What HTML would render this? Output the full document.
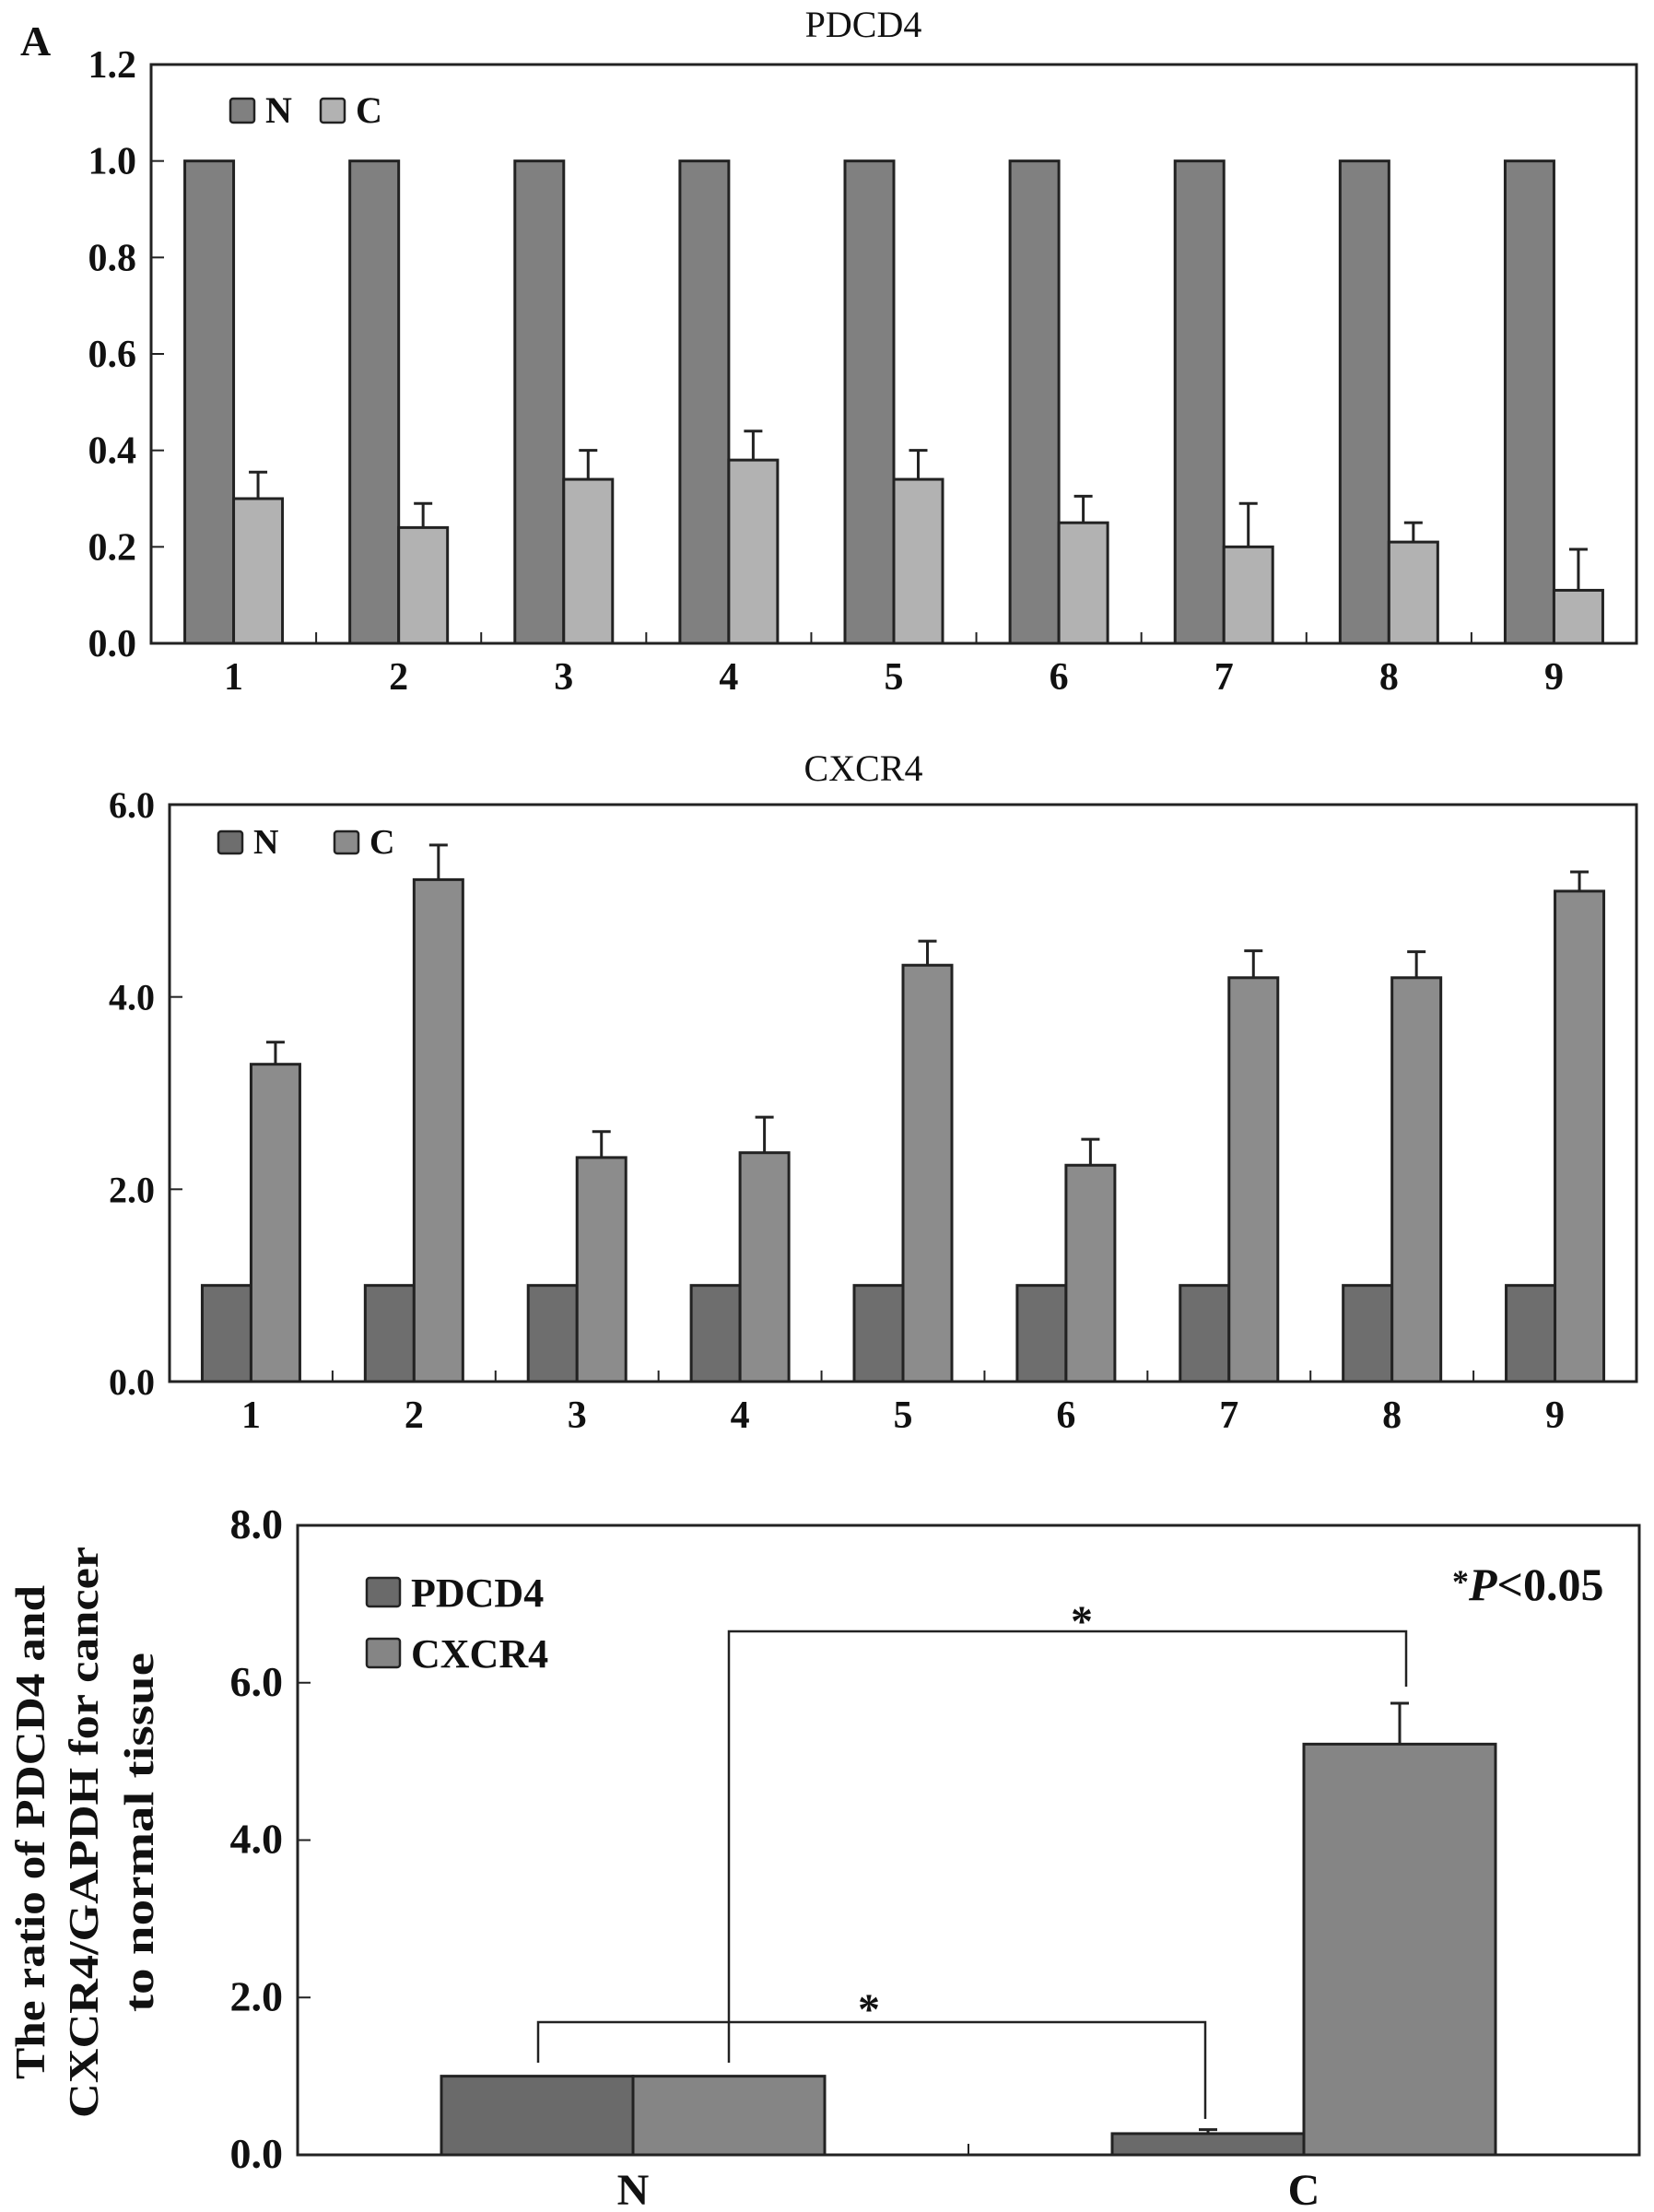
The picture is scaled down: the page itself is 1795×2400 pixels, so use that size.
<!DOCTYPE html>
<html><head><meta charset="utf-8"><style>
html,body{margin:0;padding:0;background:#fff;}
svg{display:block;font-family:"Liberation Serif",serif;font-weight:bold;}
</style></head><body>
<svg id="fig" width="1795" height="2400" viewBox="0 0 1795 2400" xmlns="http://www.w3.org/2000/svg"></svg>
<script>
// Chart 1: PDCD4
const pdcdCategories = ["1","2","3","4","5","6","7","8","9"];
const pdcdN = [1,1,1,1,1,1,1,1,1];
const pdcdC = [0.30,0.24,0.34,0.38,0.34,0.25,0.20,0.21,0.11];
const pdcdCErr = [0.055,0.05,0.06,0.06,0.06,0.055,0.09,0.04,0.085];
const pdcdTicks = ["0.0","0.2","0.4","0.6","0.8","1.0","1.2"];
// Chart 2: CXCR4
const cxcrCategories = ["1","2","3","4","5","6","7","8","9"];
const cxcrN = [1,1,1,1,1,1,1,1,1];
const cxcrC = [3.30,5.22,2.33,2.38,4.33,2.25,4.20,4.20,5.10];
const cxcrCErr = [0.23,0.36,0.27,0.37,0.25,0.27,0.28,0.27,0.20];
const cxcrTicks = ["0.0","2.0","4.0","6.0"];
// Chart 3: summary
const sumCategories = ["N","C"];
const sumPDCD4 = [1.0,0.27];
const sumPDCD4Err = [0,0.05];
const sumCXCR4 = [1.0,5.22];
const sumCXCR4Err = [0,0.52];
const sumTicks = ["0.0","2.0","4.0","6.0","8.0"];

const NS="http://www.w3.org/2000/svg";
const svg=document.getElementById('fig');
function mk(tag,attrs,parent){const e=document.createElementNS(NS,tag);for(const k in attrs)e.setAttribute(k,attrs[k]);(parent||svg).appendChild(e);return e;}
function txt(s,attrs,parent){const e=mk('text',attrs,parent);e.textContent=s;return e;}

function drawChart(o){
  const g=mk('g',{});
  
  
  const yv=v=>o.bottom-(v/o.ymax)*(o.bottom-o.top);
  const bw=(o.right-o.left)/o.cats.length;
  const xc=i=>o.left+bw*(i+0.5);
  o.ticks.forEach(t=>{
    const v=parseFloat(t),y=yv(v);
    const tk=mk('line',{x1:o.left,x2:o.left+14,y1:y,y2:y,stroke:'#222','stroke-width':2},g);
    
    
    const l=txt(t,{x:o.left-16,y:y+14,'text-anchor':'end','font-size':o.tfs,fill:'#111'},g);
    
    
  });
  o.series.forEach((s,si)=>{
    s.vals.forEach((v,i)=>{
      const x=xc(i)+(si===0?-o.barW:0);
      const r=mk('rect',{x:x,y:yv(v),width:o.barW,height:o.bottom-yv(v),fill:s.fill,stroke:'#222','stroke-width':3},g);
      
      
      if(s.err && s.err[i]>0){
        const cx=x+o.barW/2, ty=yv(v+s.err[i]);
        const e=mk('path',{d:`M${cx},${yv(v)}V${ty}M${cx-10},${ty}H${cx+10}`,stroke:'#222','stroke-width':3,fill:'none'},g);
        
        
      }
    });
  });
  o.cats.forEach((c,i)=>{
    if(i>0){const t=mk('line',{x1:o.left+bw*i,x2:o.left+bw*i,y1:o.bottom,y2:o.bottom-12,stroke:'#222','stroke-width':2},g);
      
      }
    const l=txt(c,{x:xc(i),y:o.bottom+o.xlOff,'text-anchor':'middle','font-size':o.xfs,fill:'#111'},g);
    
    
  });
  const fr=mk('rect',{x:o.left,y:o.top,width:o.right-o.left,height:o.bottom-o.top,fill:'none',stroke:'#222','stroke-width':3},g);
  
  
  return {yv,xc,g};
}

let a=txt('A',{x:22,y:60,'font-size':46,fill:'#111'});


let t1=txt('PDCD4',{x:937,y:40,'text-anchor':'middle','font-size':40,'font-weight':'normal',fill:'#111'});


let t2=txt('CXCR4',{x:937,y:847,'text-anchor':'middle','font-size':40,'font-weight':'normal',fill:'#111'});



drawChart({name:'pdcd4-chart',left:164,right:1776,top:70,bottom:698,ymax:1.2,cats:pdcdCategories,ticks:pdcdTicks,barW:53,tfs:42,xfs:42,xlOff:50,
  series:[{key:'n',vals:pdcdN,fill:'#808080'},{key:'c',vals:pdcdC,err:pdcdCErr,fill:'#b2b2b2'}]});
drawChart({name:'cxcr4-chart',left:184,right:1776,top:873,bottom:1499,ymax:6,cats:cxcrCategories,ticks:cxcrTicks,barW:53,tfs:40,xfs:42,xlOff:50,
  series:[{key:'n',vals:cxcrN,fill:'#6e6e6e'},{key:'c',vals:cxcrC,err:cxcrCErr,fill:'#8c8c8c'}]});
drawChart({name:'summary-chart',left:323,right:1779,top:1655,bottom:2338,ymax:8,cats:sumCategories,ticks:sumTicks,barW:208,tfs:46,xfs:48,xlOff:54,
  series:[{key:'pdcd4',vals:sumPDCD4,err:sumPDCD4Err,fill:'#6a6a6a'},{key:'cxcr4',vals:sumCXCR4,err:sumCXCR4Err,fill:'#858585'}]});

function legend(items){
  items.forEach(it=>{
    const r=mk('rect',{x:it.x,y:it.y,width:it.w,height:it.h,rx:3,fill:it.fill,stroke:'#222','stroke-width':2.5});
    
    
    const t=txt(it.label,{x:it.x+it.w+12,y:it.y+it.h,'font-size':it.fs,fill:'#111'});
    
    
  });
}
legend([{key:'n',x:250,y:107,w:26,h:26,fill:'#808080',label:'N',fs:40},{key:'c',x:348,y:107,w:26,h:26,fill:'#b2b2b2',label:'C',fs:40}]);
legend([{key:'n',x:237,y:902,w:26,h:24,fill:'#6e6e6e',label:'N',fs:38},{key:'c',x:363,y:902,w:26,h:24,fill:'#8c8c8c',label:'C',fs:38}]);
legend([{key:'pdcd4',x:398,y:1712,w:36,h:31,fill:'#6a6a6a',label:'PDCD4',fs:44},{key:'cxcr4',x:398,y:1778,w:36,h:31,fill:'#858585',label:'CXCR4',fs:44}]);

function bracket(name,x1,x2,y,y1end,y2end,sx,sy){
  const p=mk('path',{d:`M${x1},${y1end}V${y}H${x2}V${y2end}`,fill:'none',stroke:'#222','stroke-width':2.5});
  
  
  const s=txt('*',{x:sx,y:sy,'text-anchor':'middle','font-size':48,fill:'#111'});
  
  
}
bracket('bracket-cxcr4',791,1526,1770,2238,1830,1174,1775);
bracket('bracket-pdcd4',584,1308,2194,2238,2299,943,2196);

const pv=mk('text',{x:1576,y:1736,'font-size':50,fill:'#111'});


pv.innerHTML='<tspan font-size="36" dy="-8">*</tspan><tspan dy="8" font-style="italic">P</tspan><tspan>&lt;0.05</tspan>';

const yt=mk('g',{transform:'translate(92,1988) rotate(-90)'});


txt('The ratio of PDCD4 and',{x:0,y:-44,'text-anchor':'middle','font-size':46,fill:'#111',textLength:536,lengthAdjust:'spacingAndGlyphs'},yt);
txt('CXCR4/GAPDH for cancer',{x:0,y:14,'text-anchor':'middle','font-size':46,fill:'#111',textLength:620,lengthAdjust:'spacingAndGlyphs'},yt);
txt('to normal tissue',{x:0,y:74,'text-anchor':'middle','font-size':46,fill:'#111',textLength:390,lengthAdjust:'spacingAndGlyphs'},yt);
</script>
</body></html>
